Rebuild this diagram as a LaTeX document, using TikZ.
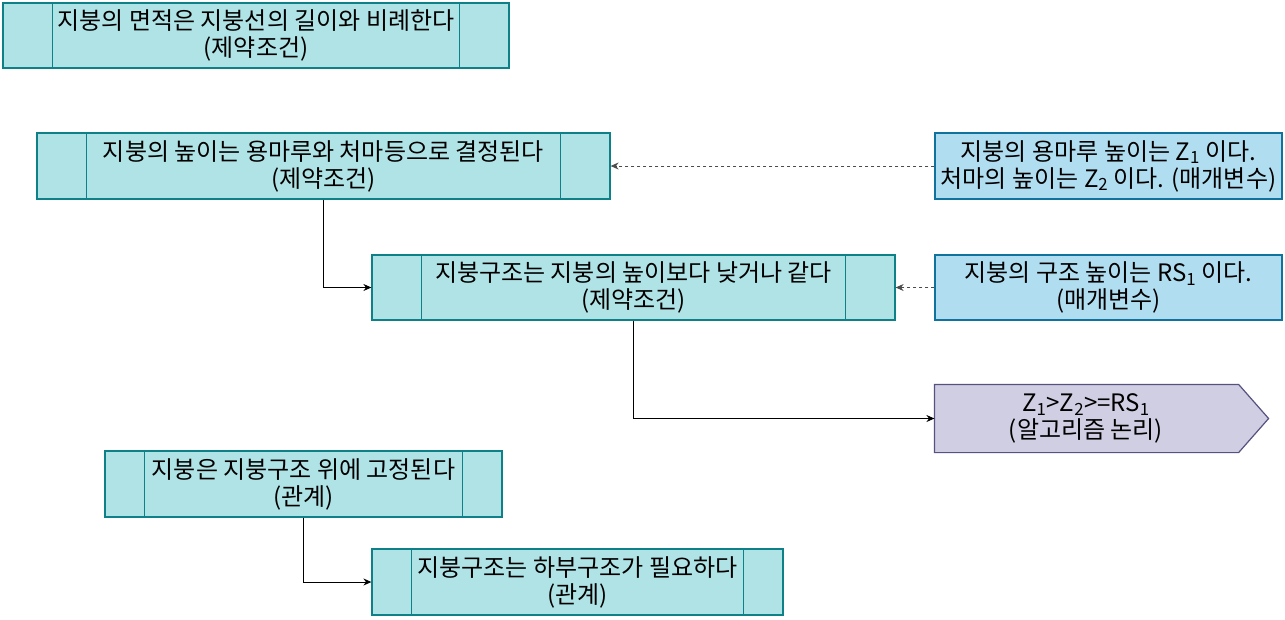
\documentclass[tikz,border=0pt]{standalone}
\usepackage{fontspec}
\setmainfont{Noto Sans CJK KR}
\usetikzlibrary{arrows.meta}
\definecolor{tealfill}{HTML}{B0E3E6}
\definecolor{tealline}{HTML}{0E8088}
\definecolor{bluefill}{HTML}{B1DDF0}
\definecolor{blueline}{HTML}{10739E}
\definecolor{purfill}{HTML}{D0CEE2}
\definecolor{purline}{HTML}{56517E}
\tikzset{
  base/.style={rectangle, inner sep=0pt, align=center, font=\fontsize{24}{27}\selectfont, line width=1.2pt},
  proc/.style={base, draw=tealline, fill=tealfill},
  param/.style={base, draw=blueline, fill=bluefill},
  conn/.style={line width=1pt, -{Stealth[length=8pt,width=7pt]}},
  dconn/.style={conn, dashed, dash pattern=on 3pt off 3pt, draw=black!70},
}
\newcommand{\bars}[2]{%
  \draw[tealline, line width=1.2pt] ([xshift=#2pt]#1.north west) -- ([xshift=#2pt]#1.south west);
  \draw[tealline, line width=1.2pt] ([xshift=-#2pt]#1.north east) -- ([xshift=-#2pt]#1.south east);}
\begin{document}
\begin{tikzpicture}[x=1pt,y=-1pt]
\useasboundingbox (0,0) rectangle (1285,619);
\node[proc, minimum width=506pt, minimum height=65pt] (b1) at (256,35.5) {지붕의 면적은 지붕선의 길이와 비례한다\\(제약조건)};
\bars{b1}{50}
\node[proc, minimum width=573pt, minimum height=66pt] (b2) at (323.5,166) {지붕의 높이는 용마루와 처마등으로 결정된다\\(제약조건)};
\bars{b2}{50}
\node[param, minimum width=347pt, minimum height=66pt] (p1) at (1108.5,166) {지붕의 용마루 높이는 Z\textsubscript{1} 이다.\\처마의 높이는 Z\textsubscript{2} 이다. (매개변수)};
\node[proc, minimum width=523pt, minimum height=65pt] (b3) at (633.5,287.5) {지붕구조는 지붕의 높이보다 낮거나 같다\\(제약조건)};
\bars{b3}{50}
\node[param, minimum width=347pt, minimum height=65pt] (p2) at (1108.5,287.5) {지붕의 구조 높이는 RS\textsubscript{1} 이다.\\(매개변수)};
\node[base, minimum width=333pt, minimum height=67pt] (al) at (1101.5,418.5) {};
\draw[purline, fill=purfill, line width=1.2pt] (al.north west) -- ([xshift=-30pt]al.north east) -- (al.east) -- ([xshift=-30pt]al.south east) -- (al.south west) -- cycle;
\node[base] (alt) at (1086,418.5) {Z\textsubscript{1}>Z\textsubscript{2}>=RS\textsubscript{1}\\(알고리즘 논리)};
\node[proc, minimum width=397pt, minimum height=66pt] (b4) at (303.5,484) {지붕은 지붕구조 위에 고정된다\\(관계)};
\bars{b4}{40}
\node[proc, minimum width=411pt, minimum height=66pt] (b5) at (577.5,582) {지붕구조는 하부구조가 필요하다\\(관계)};
\bars{b5}{40}
\draw[dconn] (p1.west) -- (b2.east);
\draw[dconn] (p2.west) -- (b3.east);
\draw[conn] (b2.south) |- (b3.west);
\draw[conn] (b3.south) |- (al.west);
\draw[conn] (b4.south) |- (b5.west);
\end{tikzpicture}
\end{document}
